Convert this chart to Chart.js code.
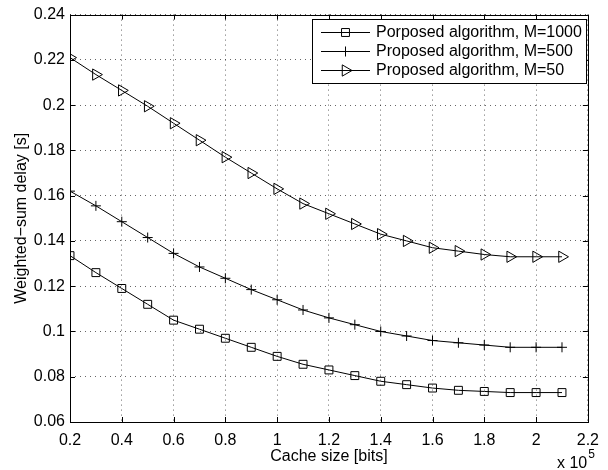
<!DOCTYPE html>
<html>
<head>
<meta charset="utf-8">
<script src="https://cdn.jsdelivr.net/npm/chart.js@4.4.1/dist/chart.umd.min.js"></script>
<style>
  html, body { margin: 0; padding: 0; background: #fff; }
  #wrap { width: 608px; height: 470px; }
</style>
</head>
<body>
<div id="wrap"><canvas id="chart" width="608" height="470"></canvas></div>
<script>
// cache size in units of 1e5 bits
const cacheSize = [0.2, 0.3, 0.4, 0.5, 0.6, 0.7, 0.8, 0.9, 1.0, 1.1, 1.2, 1.3, 1.4, 1.5, 1.6, 1.7, 1.8, 1.9, 2.0, 2.1];

const delayM1000 = [0.1335, 0.126, 0.119, 0.112, 0.105, 0.101, 0.097, 0.093, 0.089, 0.0855, 0.083, 0.0805, 0.078, 0.0765, 0.075, 0.074, 0.0735, 0.073, 0.073, 0.073];
const delayM500  = [0.162, 0.1555, 0.1485, 0.1415, 0.1345, 0.1285, 0.1235, 0.1185, 0.114, 0.1095, 0.106, 0.103, 0.100, 0.098, 0.096, 0.095, 0.094, 0.093, 0.093, 0.093];
const delayM50   = [0.221, 0.2135, 0.2065, 0.1995, 0.192, 0.1845, 0.177, 0.170, 0.163, 0.1565, 0.152, 0.1475, 0.143, 0.140, 0.137, 0.1355, 0.134, 0.133, 0.133, 0.133];

const seriesLabels = ['Porposed algorithm, M=1000', 'Proposed algorithm, M=500', 'Proposed algorithm, M=50'];

const xTicks = [0.2, 0.4, 0.6, 0.8, 1.0, 1.2, 1.4, 1.6, 1.8, 2.0, 2.2];
const yTicks = [0.06, 0.08, 0.10, 0.12, 0.14, 0.16, 0.18, 0.20, 0.22, 0.24];

const FONT = '"Liberation Sans", Arial, Helvetica, sans-serif';
const FSIZE = 16;

function toPoints(ys) {
    return cacheSize.map((x, i) => ({ x: x, y: ys[i] }));
}

function fmt(v) {
    return String(Number(v.toFixed(2)));
}

const markers = [
    { pointStyle: 'rect', radius: 5.6, rotation: 0 },
    { pointStyle: 'cross', radius: 5, rotation: 0 },
    { pointStyle: 'triangle', radius: 6.5, rotation: 90 }
];

function makeSet(label, ys, m) {
    return {
        label: label,
        data: toPoints(ys),
        borderColor: '#000',
        borderWidth: 1,
        backgroundColor: 'rgba(0,0,0,0)',
        pointStyle: m.pointStyle,
        pointRadius: m.radius,
        pointRotation: m.rotation,
        pointBorderColor: '#000',
        pointBorderWidth: 1,
        pointBackgroundColor: 'rgba(0,0,0,0)',
        tension: 0,
        fill: false
    };
}

// MATLAB style frame: box, inward ticks, exponent label, legend
const matlabFrame = {
    id: 'matlabFrame',
    afterDraw(chart) {
        const ctx = chart.ctx;
        const a = chart.chartArea;
        const xs = chart.scales.x, ys = chart.scales.y;
        ctx.save();
        ctx.strokeStyle = '#000';
        ctx.lineWidth = 1;
        ctx.setLineDash([]);
        ctx.beginPath();
        const tl = 5;
        xTicks.forEach(v => {
            const px = Math.round(xs.getPixelForValue(v)) + 0.5;
            ctx.moveTo(px, a.bottom); ctx.lineTo(px, a.bottom - tl);
            ctx.moveTo(px, a.top); ctx.lineTo(px, a.top + tl);
        });
        yTicks.forEach(v => {
            const py = Math.round(ys.getPixelForValue(v)) + 0.5;
            ctx.moveTo(a.left, py); ctx.lineTo(a.left + tl, py);
            ctx.moveTo(a.right, py); ctx.lineTo(a.right - tl, py);
        });
        ctx.stroke();
        ctx.strokeRect(Math.round(a.left) + 0.5, Math.round(a.top) + 0.5,
            Math.round(a.right - a.left), Math.round(a.bottom - a.top));

        // exponent
        ctx.fillStyle = '#000';
        ctx.textBaseline = 'alphabetic';
        ctx.textAlign = 'left';
        ctx.font = FSIZE + 'px ' + FONT;
        ctx.fillText('x 10', 557, 468);
        const w = ctx.measureText('x 10').width;
        ctx.font = '12px ' + FONT;
        ctx.fillText('5', 557 + w + 1, 458);

        // legend
        const lx = 312, ly = 19, lw = 274, lh = 64;
        ctx.fillStyle = '#fff';
        ctx.fillRect(lx, ly, lw, lh);
        ctx.strokeRect(lx + 0.5, ly + 0.5, lw, lh);
        const rows = [32, 51, 70];
        chart.data.datasets.forEach((ds, i) => {
            const y = rows[i] + 0.5;
            ctx.strokeStyle = '#000';
            ctx.lineWidth = 1;
            ctx.beginPath();
            ctx.moveTo(321, y); ctx.lineTo(370, y);
            ctx.stroke();
            ctx.fillStyle = 'rgba(0,0,0,0)';
            Chart.helpers.drawPoint(ctx, {
                pointStyle: markers[i].pointStyle,
                radius: markers[i].radius,
                rotation: markers[i].rotation,
                borderWidth: 1
            }, 345.5, y);
            ctx.fillStyle = '#000';
            ctx.font = FSIZE + 'px ' + FONT;
            ctx.textBaseline = 'middle';
            ctx.fillText(ds.label, 376, rows[i] + 1);
        });
        ctx.restore();
    }
};

new Chart(document.getElementById('chart'), {
    type: 'line',
    data: {
        datasets: [
            makeSet(seriesLabels[0], delayM1000, markers[0]),
            makeSet(seriesLabels[1], delayM500, markers[1]),
            makeSet(seriesLabels[2], delayM50, markers[2])
        ]
    },
    options: {
        responsive: false,
        animation: false,
        layout: { padding: { left: 0, right: 15, top: 12, bottom: 0 } },
        plugins: {
            legend: { display: false },
            tooltip: { enabled: false }
        },
        scales: {
            x: {
                type: 'linear',
                min: 0.2,
                max: 2.2,
                afterBuildTicks: s => { s.ticks = xTicks.map(v => ({ value: v })); },
                afterFit: s => { s.height = 48; },
                ticks: {
                    color: '#000',
                    font: { family: FONT, size: FSIZE },
                    padding: 9,
                    maxRotation: 0,
                    autoSkip: false,
                    callback: v => fmt(v)
                },
                grid: { color: 'rgba(0,0,0,0.6)', lineWidth: 1, drawTicks: false },
                border: { display: false, dash: [1, 4] },
                title: {
                    display: true,
                    text: 'Cache size [bits]',
                    color: '#000',
                    font: { family: FONT, size: FSIZE },
                    padding: { top: 0, bottom: 4 }
                }
            },
            y: {
                type: 'linear',
                min: 0.06,
                max: 0.24,
                afterBuildTicks: s => { s.ticks = yTicks.map(v => ({ value: v })); },
                afterFit: s => { s.width = 70; },
                ticks: {
                    color: '#000',
                    font: { family: FONT, size: FSIZE },
                    padding: 5,
                    autoSkip: false,
                    callback: v => fmt(v)
                },
                grid: { color: 'rgba(0,0,0,0.6)', lineWidth: 1, drawTicks: false },
                border: { display: false, dash: [1, 4] },
                title: {
                    display: true,
                    text: 'Weighted\u2212sum delay [s]',
                    color: '#000',
                    font: { family: FONT, size: FSIZE },
                    padding: { top: 12, bottom: 0 }
                }
            }
        }
    },
    plugins: [matlabFrame]
});
</script>
</body>
</html>
